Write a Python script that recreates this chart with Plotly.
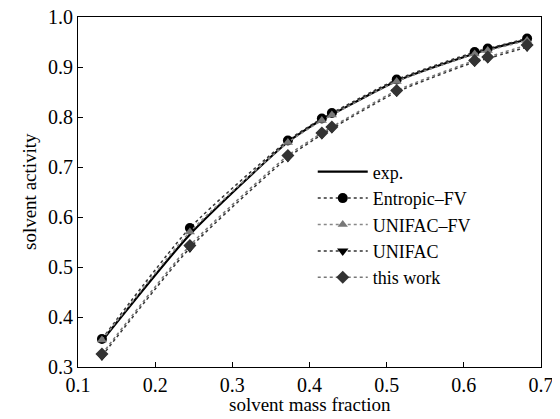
import plotly.graph_objects as go

x_mass = [0.131, 0.245, 0.372, 0.416, 0.429, 0.513, 0.614, 0.631, 0.682]
exp_vals = [0.352, 0.565, 0.750, 0.795, 0.805, 0.872, 0.927, 0.935, 0.955]
entropic_fv = [0.356, 0.578, 0.753, 0.797, 0.808, 0.875, 0.930, 0.937, 0.957]
unifac_fv = [0.354, 0.570, 0.749, 0.793, 0.804, 0.871, 0.926, 0.933, 0.953]
unifac = [0.322, 0.538, 0.719, 0.765, 0.777, 0.850, 0.910, 0.917, 0.940]
this_work = [0.326, 0.543, 0.723, 0.768, 0.780, 0.853, 0.913, 0.920, 0.944]

x_ticks = [0.1, 0.2, 0.3, 0.4, 0.5, 0.6, 0.7]
y_ticks = [0.3, 0.4, 0.5, 0.6, 0.7, 0.8, 0.9, 1.0]
x_title = "solvent mass fraction"
y_title = "solvent activity"

FONT = "Liberation Serif, Times New Roman, serif"

fig = go.Figure()
fig.add_trace(go.Scatter(x=x_mass, y=exp_vals, name="exp.", mode="lines",
                         line=dict(color="black", width=2.2, shape="spline", smoothing=0.6)))
fig.add_trace(go.Scatter(x=x_mass, y=entropic_fv, name="Entropic\u2013FV", mode="lines+markers",
                         line=dict(color="#333333", width=1.5, dash="dot", shape="spline", smoothing=0.6),
                         marker=dict(symbol="circle", size=10, color="black")))
fig.add_trace(go.Scatter(x=x_mass, y=unifac_fv, name="UNIFAC\u2013FV", mode="lines+markers",
                         line=dict(color="#888888", width=1.5, dash="dot", shape="spline", smoothing=0.6),
                         marker=dict(symbol="triangle-up", size=9, color="#777777")))
fig.add_trace(go.Scatter(x=x_mass, y=unifac, name="UNIFAC", mode="lines+markers",
                         line=dict(color="#333333", width=1.5, dash="dot", shape="spline", smoothing=0.6),
                         marker=dict(symbol="triangle-down", size=10, color="black")))
fig.add_trace(go.Scatter(x=x_mass, y=this_work, name="this work", mode="lines+markers",
                         line=dict(color="#777777", width=1.5, dash="dot", shape="spline", smoothing=0.6),
                         marker=dict(symbol="diamond", size=10, color="#333333")))

axis_common = dict(showline=True, linecolor="black", linewidth=1, mirror=True,
                   ticks="inside", ticklen=5, tickcolor="black", showgrid=False,
                   zeroline=False, automargin=False, ticklabeloverflow="allow",
                   tickfont=dict(family=FONT, size=20, color="black"))

# page body has an 8px default margin, so the figure is 8px smaller with matching margins
fig.update_layout(
    template="none",
    width=552, height=411,
    margin=dict(l=70, r=19, t=9, b=52),
    paper_bgcolor="white", plot_bgcolor="white",
    font=dict(family=FONT, size=19, color="black"),
    xaxis=dict(range=[0.1, 0.7], tickvals=x_ticks, ticktext=[f"{v:.1f}" for v in x_ticks],
               **axis_common),
    yaxis=dict(range=[0.3, 1.0], tickvals=y_ticks, ticktext=[f"{v:.1f}" for v in y_ticks],
               **axis_common),
    showlegend=True,
    legend=dict(x=0.507, y=0.61, xanchor="left", yanchor="top", bgcolor="rgba(0,0,0,0)",
                font=dict(family=FONT, size=18), itemwidth=50, tracegroupgap=0),
    annotations=[
        dict(text=x_title, xref="paper", yref="paper", x=0.5, y=0, xanchor="center",
             yanchor="top", yshift=-25, showarrow=False, font=dict(family=FONT, size=19)),
        dict(text=y_title, xref="paper", yref="paper", x=0, y=0.5, xanchor="center",
             yanchor="middle", xshift=-49, textangle=-90, showarrow=False,
             font=dict(family=FONT, size=19)),
    ],
)

fig.write_html("out.html")
